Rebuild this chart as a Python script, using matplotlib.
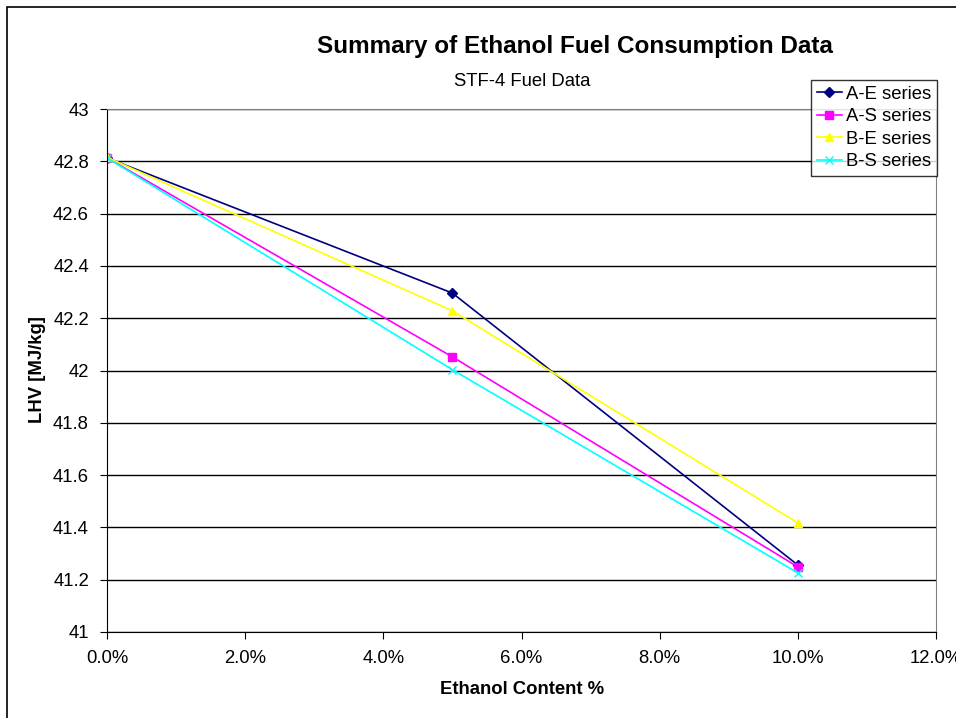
import matplotlib.pyplot as plt
from matplotlib.patches import Rectangle
from matplotlib.ticker import FuncFormatter, MultipleLocator

plt.rcParams['font.family'] = ['Liberation Sans', 'DejaVu Sans']

ethanol = [0.0, 0.05, 0.10]
a_e = [42.813, 42.296, 41.256]
a_s = [42.813, 42.052, 41.249]
b_e = [42.815, 42.228, 41.417]
b_s = [42.813, 42.003, 41.226]

fig = plt.figure(figsize=(9.56, 7.18), dpi=100)
ax = fig.add_axes([107/956, 1 - 632/718, (936 - 107)/956, (632 - 109)/718])

# outer chart frame (cut off right/bottom like the reference)
fig.patches.append(Rectangle((7/956, -0.1), 1.2, 1 - 7/718 + 0.1, transform=fig.transFigure,
                             fill=False, edgecolor='black', linewidth=1.2))

ax.plot(ethanol, a_e, color='#000080', marker='D', markersize=5, linewidth=1.2, label='A-E series')
ax.plot(ethanol, a_s, color='#FF00FF', marker='s', markersize=6, linewidth=1.2, label='A-S series')
ax.plot(ethanol, b_e, color='#FFFF00', marker='^', markersize=6, linewidth=1.2, label='B-E series')
ax.plot(ethanol, b_s, color='#00FFFF', marker='x', markersize=6, linewidth=1.2, label='B-S series')

ax.set_xlim(0, 0.12)
ax.set_ylim(41, 43)
ax.xaxis.set_major_locator(MultipleLocator(0.02))
ax.yaxis.set_major_locator(MultipleLocator(0.2))
ax.xaxis.set_major_formatter(FuncFormatter(lambda v, p: '%.1f%%' % (v * 100)))
ax.yaxis.set_major_formatter(FuncFormatter(lambda v, p: ('%.1f' % v).rstrip('0').rstrip('.')))
ax.tick_params(labelsize=13.3, length=5, direction='out', color='black')
ax.tick_params(axis='x', pad=8)
ax.tick_params(axis='y', pad=8)
ax.grid(axis='y', color='black', linewidth=1)
ax.set_axisbelow(True)
for side in ['top', 'right']:
    ax.spines[side].set_color('#808080')
for side in ['left', 'bottom']:
    ax.spines[side].set_color('black')

fig.text(522/956, 1 - 690/718, 'Ethanol Content %', ha='center', va='center',
         fontsize=13.3, fontweight='bold')
fig.text(37/956, 1 - 370/718, 'LHV [MJ/kg]', ha='center', va='center', rotation=90,
         fontsize=13.3, fontweight='bold')

fig.text(575/956, 1 - 47/718, 'Summary of Ethanol Fuel Consumption Data', ha='center', va='center',
         fontsize=17.5, fontweight='bold')
fig.text(522/956, 1 - 81/718, 'STF-4 Fuel Data', ha='center', va='center', fontsize=13.3)

leg = fig.legend(loc='upper right', bbox_to_anchor=(937/956, 1 - 80/718), fontsize=13.3,
                 frameon=True, fancybox=False, edgecolor='black', borderpad=0.3,
                 labelspacing=0.3, handlelength=1.35, handletextpad=0.25, borderaxespad=0)
leg.get_frame().set_linewidth(1)

fig.savefig('out.png', dpi=100)
